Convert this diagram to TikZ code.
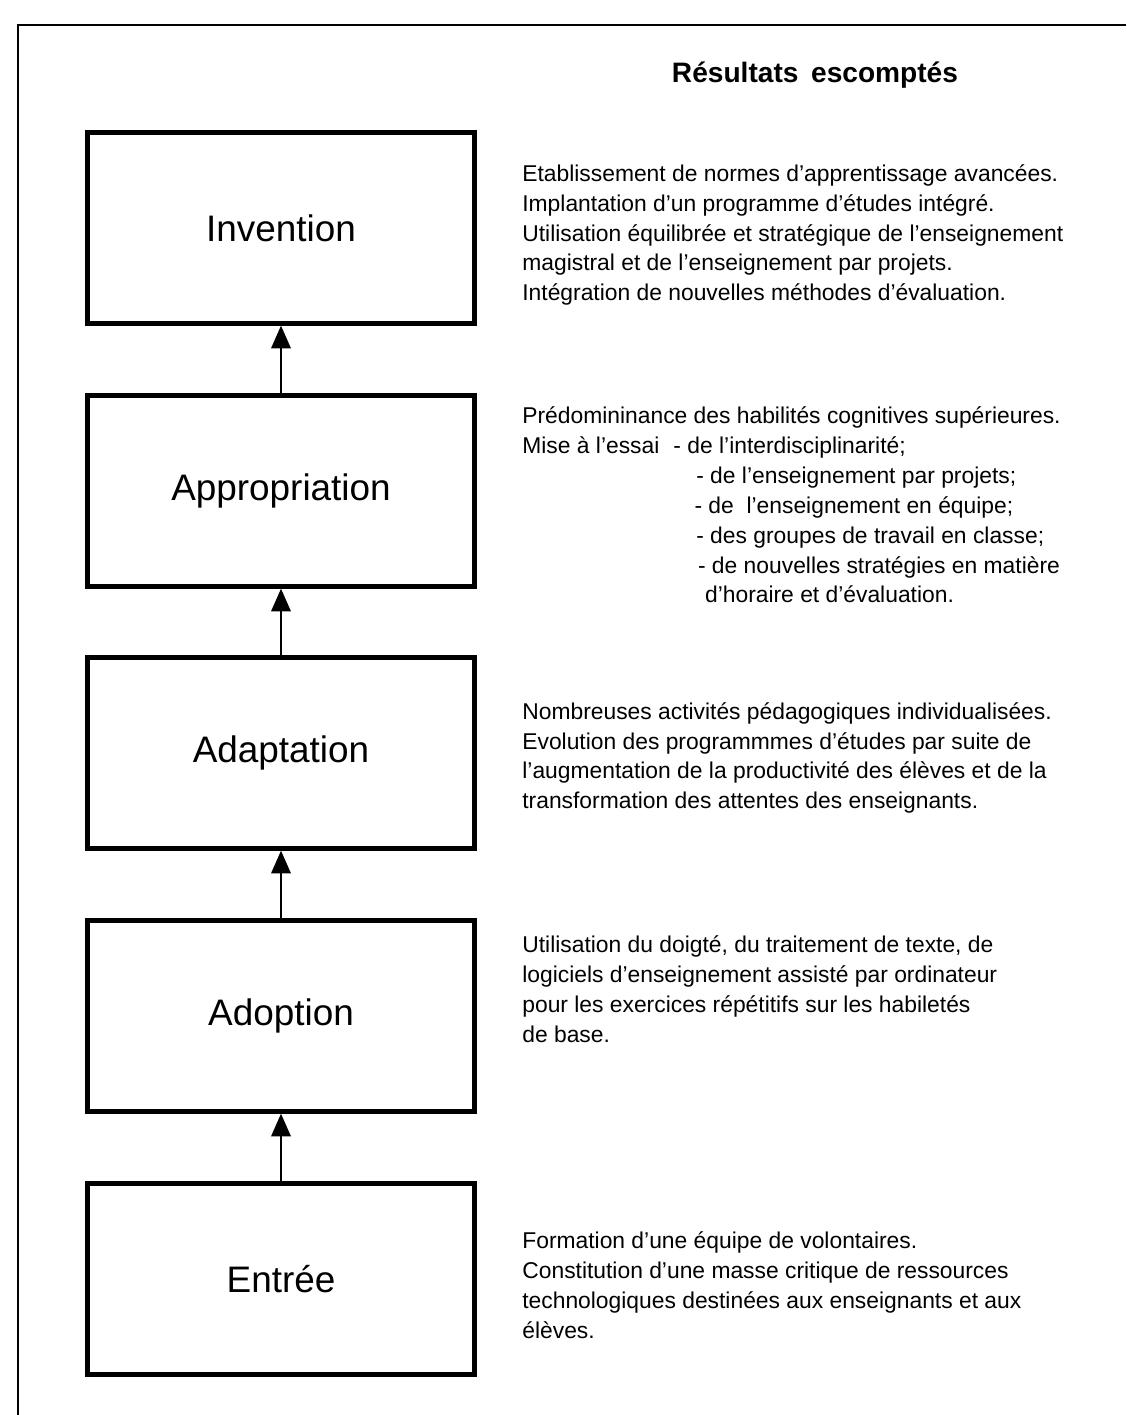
\documentclass[tikz,border=0pt]{standalone}
\usepackage{fontspec}
\setmainfont{Liberation Sans}
\usetikzlibrary{arrows.meta}
\tikzset{
  stage/.style  = {draw, line width=2.4pt, minimum width=7.74cm, minimum height=3.82cm,
                   inner sep=0pt, font=\fontsize{21}{25}\selectfont},
  result/.style = {anchor=west, align=left, inner sep=0pt, font=\fontsize{13}{17}\selectfont},
  arrow/.style  = {-{Triangle[length=13pt,width=11pt]}, line width=1.5pt},
  frame/.style  = {line width=1.4pt},
}

\begin{document}
\begin{tikzpicture}[x=0.02cm, y=-0.02cm]
  \useasboundingbox (0,0) rectangle (1126,1415);
  % outer frame, cut by the page on the right and at the bottom
  \draw[frame] (18,1415) -- (18,25) -- (1126,25);
  \node[font=\bfseries\fontsize{16}{19}\selectfont] (title) at (815,75) {Résultats\hspace{0.45em}escomptés};
  % the five stages, bottom to top
  \foreach \nm/\lbl/\yy in {inv/Invention/228, app/Appropriation/491, ada/Adaptation/753,
                            ado/Adoption/1016, ent/Entrée/1279} {
    \node[stage] (\nm) at (281,\yy) {\lbl};
  }
  \foreach \a/\b in {ent/ado, ado/ada, ada/app, app/inv} {
    \draw[arrow] (\a) -- (\b);
  }
  % expected results
  \node[result] (rinv) at (522,235) {Etablissement de normes d’apprentissage avancées.\\
    Implantation d’un programme d’études intégré.\\
    Utilisation équilibrée et stratégique de l’enseignement\\
    magistral et de l’enseignement par projets.\\
    Intégration de nouvelles méthodes d’évaluation.};
  \node[result] (rapp) at (522,505) {Prédomininance des habilités cognitives supérieures.\\
    Mise à l’essai\hspace{8pt}- de l’interdisciplinarité;\\
    \hspace*{99pt}- de l’enseignement par projets;\\
    \hspace*{98pt}- de\ \ l’enseignement en équipe;\\
    \hspace*{99pt}- des groupes de travail en classe;\\
    \hspace*{100pt}- de nouvelles stratégies en matière\\
    \hspace*{104pt}d’horaire et d’évaluation.};
  \node[result] (rada) at (522,758) {Nombreuses activités pédagogiques individualisées.\\
    Evolution des programmmes d’études par suite de\\
    l’augmentation de la productivité des élèves et de la\\
    transformation des attentes des enseignants.};
  \node[result] (rado) at (522,989) {Utilisation du doigté, du traitement de texte, de\\
    logiciels d’enseignement assisté par ordinateur\\
    pour les exercices répétitifs sur les habiletés\\
    de base.};
  \node[result] (rent) at (522,1285) {Formation d’une équipe de volontaires.\\
    Constitution d’une masse critique de ressources\\
    technologiques destinées aux enseignants et aux\\
    élèves.};
\end{tikzpicture}
\end{document}
